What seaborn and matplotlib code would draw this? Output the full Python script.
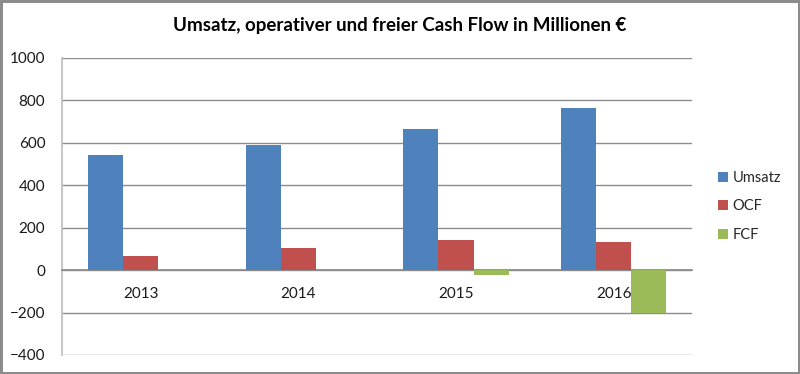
import numpy as np
import pandas as pd
import matplotlib.pyplot as plt
import seaborn as sns

# values (Mio. EUR)
years = ["2013", "2014", "2015", "2016"]
umsatz = [541, 590, 666, 763]
ocf = [68, 104, 140, 132]
fcf = [0, 0, -22, -203]
series_names = ["Umsatz", "OCF", "FCF"]
colors = ["#4F81BD", "#C0504D", "#9BBB59"]

df = pd.DataFrame({
    "Jahr": years * 3,
    "Wert": umsatz + ocf + fcf,
    "Reihe": [s for s in series_names for _ in years],
})

sns.set_theme(style="white")
plt.rcParams["font.family"] = ["Lato", "DejaVu Sans"]

fig = plt.figure(figsize=(8, 3.74), dpi=100)
fig.patch.set_edgecolor("#8c8c8c")
fig.patch.set_linewidth(2.5)
ax = fig.add_axes([0.0775, 0.051, 0.788, 0.794])

sns.barplot(data=df, x="Jahr", y="Wert", hue="Reihe", palette=colors,
            width=0.667, saturation=1, linewidth=0, ax=ax, zorder=3)

ax.set_ylim(-400, 1000)
ax.set_yticks(range(-400, 1001, 200))
ax.set_xlim(-0.5, 3.5)
ax.yaxis.grid(True, color="#8c8c8c", linewidth=1)
ax.set_axisbelow(True)
ax.set_xlabel("")
ax.set_ylabel("")

# x axis sits on the zero line, Excel style
for side in ["top", "right"]:
    ax.spines[side].set_visible(False)
ax.spines["bottom"].set_position(("data", 0))
ax.spines["bottom"].set_color("#8c8c8c")
ax.spines["left"].set_color("#bfbfbf")
ax.tick_params(axis="x", which="major", length=0, pad=12, labelsize=11, labelcolor="#1a1a1a")
ax.tick_params(axis="y", length=0, pad=12, labelsize=11, labelcolor="#1a1a1a")
ax.set_xticks(np.arange(-0.5, 4, 1), minor=True)
ax.tick_params(axis="x", which="minor", length=5, color="#8c8c8c", direction="out")

leg = ax.legend(loc="center left", bbox_to_anchor=(1.02, 0.5), frameon=False,
                fontsize=10.5, handlelength=0.7, handleheight=0.7,
                handletextpad=0.3, labelspacing=1.0, title=None)

fig.suptitle("Umsatz, operativer und freier Cash Flow in Millionen €",
             x=0.5, y=0.955, fontsize=13.5, fontweight="bold", color="#000000")

fig.savefig("out.png", dpi=100)
